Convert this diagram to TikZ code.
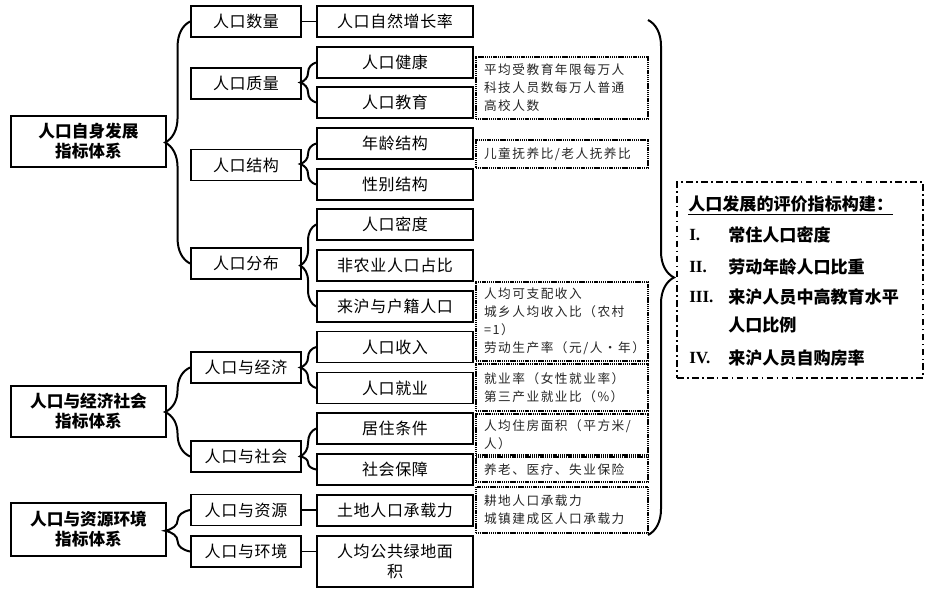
\documentclass[tikz,border=0pt]{standalone}
\usepackage{fontspec}
\setmainfont{Liberation Serif}
\newfontfamily\cjk[LetterSpace=4]{Noto Sans CJK SC}
\newfontfamily\cjkb{Noto Sans CJK SC}
\newfontfamily\cjks[LetterSpace=12]{Noto Sans CJK SC}
\usetikzlibrary{decorations.pathreplacing,calc}
\begin{document}
\begin{tikzpicture}[x=0.75pt,y=-0.75pt,
  lbox/.style={draw, line width=1.4pt, minimum width=116.25pt, minimum height=38.25pt, inner sep=0pt, align=center, font=\cjkb\bfseries\fontsize{12.5}{15}\selectfont},
  mbox/.style={draw, line width=1.4pt, minimum width=82.5pt, minimum height=23.25pt, inner sep=0pt, align=center, font=\cjk\fontsize{12}{14.5}\selectfont},
  rbox/.style={mbox, minimum width=117pt},
  dbox/.style={draw, dash pattern=on 0.9pt off 0.5pt, line width=0.9pt, minimum width=129pt, text width=117pt, inner xsep=6pt, inner ysep=0pt, align=left, font=\cjks\fontsize{9.5}{13.5}\selectfont, text=black!85},
  brc/.style={decorate, decoration={brace, amplitude=#1}, line width=1.5pt},
  brc/.default=12pt,
  conn/.style={line width=1.4pt},
  sumtxt/.style={anchor=west, inner sep=0pt, font=\cjkb\bfseries\fontsize{12.8}{15}\selectfont},
  numtxt/.style={anchor=west, inner sep=0pt, font=\bfseries\fontsize{12.8}{15}\selectfont}
]
\useasboundingbox (0,0) rectangle (931,596);

% left level
\node[lbox] (L1) at (88.5,141.5) {人口自身发展\\指标体系};
\node[lbox] (L2) at (88.5,411.5) {人口与经济社会\\指标体系};
\node[lbox, minimum height=39.75pt] (L3) at (88.5,529.5) {人口与资源环境\\指标体系};

% middle level
\node[mbox] (M1) at (246,21.5) {人口数量};
\node[mbox] (M2) at (246,83.5) {人口质量};
\node[mbox] (M3) at (246,165) {人口结构};
\node[mbox] (M4) at (246,263.5) {人口分布};
\node[mbox] (M5) at (246,367.5) {人口与经济};
\node[mbox] (M6) at (246,456.5) {人口与社会};
\node[mbox] (M7) at (246,510) {人口与资源};
\node[mbox] (M8) at (246,551.5) {人口与环境};

% right level
\node[rbox] (R1) at (395,21.5) {人口自然增长率};
\node[rbox] (R2) at (395,62.5) {人口健康};
\node[rbox] (R3) at (395,102.5) {人口教育};
\node[rbox] (R4) at (395,143.5) {年龄结构};
\node[rbox] (R5) at (395,184.5) {性别结构};
\node[rbox] (R6) at (395,224.5) {人口密度};
\node[rbox] (R7) at (395,265.5) {非农业人口占比};
\node[rbox] (R8) at (395,306.5) {来沪与户籍人口};
\node[rbox] (R9) at (395,347) {人口收入};
\node[rbox] (R10) at (395,388) {人口就业};
\node[rbox] (R11) at (395,428.5) {居住条件};
\node[rbox] (R12) at (395,469.5) {社会保障};
\node[rbox] (R13) at (395,510.5) {土地人口承载力};
\node[rbox, minimum height=38.25pt] (R14) at (395,561.5) {人均公共绿地面\\积};

% dotted notes
\node[dbox, minimum height=46.5pt] (D1) at (562,88) {平均受教育年限每万人\\科技人员数每万人普通\\高校人数};
\node[dbox, minimum height=21pt] (D2) at (562,154) {儿童抚养比/老人抚养比};
\node[dbox, minimum height=59.25pt] (D3) at (562,321.5) {人均可支配收入\\城乡人均收入比（农村\\=1）\\劳动生产率（元/人·年）};
\node[dbox, minimum height=35.25pt] (D4) at (562,387.5) {就业率（女性就业率）\\第三产业就业比（\%）};
\node[dbox, minimum height=30.75pt] (D5) at (562,434.5) {人均住房面积（平方米/\\人）};
\node[dbox, minimum height=18.75pt] (D6) at (562,469.5) {养老、医疗、失业保险};
\node[dbox, minimum height=34.5pt] (D7) at (562,510) {耕地人口承载力\\城镇建成区人口承载力};

% summary box
\node[draw, line width=1.5pt, dash pattern=on 5pt off 2.5pt on 1.2pt off 2.5pt, minimum width=184.5pt, minimum height=147pt, inner sep=0pt] (S) at (800,280) {};
\node[sumtxt] (T0) at (688,205) {\underline{人口发展的评价指标构建：}};
\node[numtxt] (N1) at (689,235) {I.};
\node[numtxt] (N2) at (689,267) {II.};
\node[numtxt] (N3) at (689,297) {III.};
\node[numtxt] (N4) at (689,358) {IV.};
\node[sumtxt] (I1) at (728,235) {常住人口密度};
\node[sumtxt] (I2) at (728,267) {劳动年龄人口比重};
\node[sumtxt] (I3) at (728,297) {来沪人员中高教育水平};
\node[sumtxt] (I3b) at (728,325) {人口比例};
\node[sumtxt] (I4) at (728,358) {来沪人员自购房率};

% braces
\draw[brc=18.75pt] (M4.west) -- (M1.west);
\draw[brc=18.75pt] (M6.west) -- (M5.west);
\draw[brc=18.75pt] (M8.west) -- (M7.west);
\draw[brc] (R3.west) -- (R2.west);
\draw[brc] (R5.west) -- (R4.west);
\draw[brc] (R8.west) -- (R6.west);
\draw[brc] (R10.west) -- (R9.west);
\draw[decorate, decoration={brace, amplitude=12pt, aspect=0.32}, line width=1.5pt] (R12.west) -- (R11.west);
\coordinate (BT) at (648,20);
\coordinate (BB) at (648,535);
\draw[brc=19.5pt] (BT) -- (BB);

% straight connectors
\draw[conn] (M1.east) -- (R1.west);
\draw[conn] (M7.east) -- (M7.east -| R13.west);
\draw[conn] (M8.east) -- (M8.east -| R14.west);
\end{tikzpicture}
\end{document}
